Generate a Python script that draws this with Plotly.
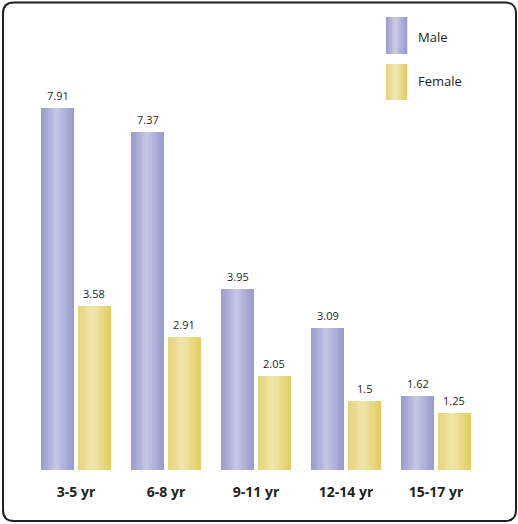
import plotly.graph_objects as go

categories = ["3-5 yr", "6-8 yr", "9-11 yr", "12-14 yr", "15-17 yr"]
male = [7.91, 7.37, 3.95, 3.09, 1.62]
female = [3.58, 2.91, 2.05, 1.5, 1.25]
series_names = ["Male", "Female"]

W, H = 518, 524
ML, MR, MT, MB = 31, 37, 35, 54
PW, PH = W - ML - MR, H - MT - MB

def px_x(px):
    return (px - ML) / PW

def px_y(py):
    return (H - MB - py) / PH

def lerp(c1, c2, t):
    return tuple(round(a + (b - a) * t) for a, b in zip(c1, c2))

def rgb(c):
    return "rgb(%d,%d,%d)" % c

male_edge_l, male_mid, male_edge_r = (150, 153, 203), (197, 199, 229), (150, 153, 203)
fem_edge_l, fem_mid, fem_edge_r = (229, 210, 118), (240, 230, 172), (226, 204, 94)

def grad(t, l, m, r, peak=0.45):
    if t < peak:
        return lerp(l, m, t / peak)
    return lerp(m, r, (t - peak) / (1 - peak))

N = 14
bar_w = 0.367
offsets = [-0.203, 0.203]
palettes = [(male_edge_l, male_mid, male_edge_r), (fem_edge_l, fem_mid, fem_edge_r)]

fig = go.Figure()
xs = list(range(len(categories)))
annotations = []
for s, vals in enumerate([male, female]):
    sw = bar_w / N
    for k in range(N):
        t = (k + 0.5) / N
        col = rgb(grad(t, *palettes[s]))
        off = offsets[s] - bar_w / 2 + (k + 0.5) * sw
        fig.add_trace(go.Bar(
            x=[i + off for i in xs], y=vals, width=sw * 1.08,
            marker=dict(color=col, line=dict(width=0)),
            showlegend=False, hoverinfo="skip", name=series_names[s]))
    for i, v in zip(xs, vals):
        annotations.append(dict(
            x=i + offsets[s], y=v, xref="x", yref="y", text=str(v),
            showarrow=False, xanchor="center", yanchor="bottom", yshift=3,
            font=dict(family="Open Sans", size=11, color="#231f20")))

shapes = []
# legend swatches
legend_boxes = [(386, 407, 17, 54), (386, 407, 64, 100)]
for s, (x0, x1, y0, y1) in enumerate(legend_boxes):
    n = 10
    for k in range(n):
        t = (k + 0.5) / n
        col = rgb(grad(t, *palettes[s]))
        a = x0 + (x1 - x0) * k / n
        b = x0 + (x1 - x0) * (k + 1) / n + 0.3
        shapes.append(dict(type="rect", xref="paper", yref="paper",
                           x0=px_x(a), x1=px_x(b), y0=px_y(y1), y1=px_y(y0),
                           fillcolor=col, line=dict(width=0), layer="above"))

annotations += [
    dict(x=px_x(416), y=px_y(37), xref="paper", yref="paper", text=series_names[0],
         showarrow=False, xanchor="left", yanchor="middle",
         font=dict(family="Open Sans", size=13, color="#231f20")),
    dict(x=px_x(416), y=px_y(81), xref="paper", yref="paper", text=series_names[1],
         showarrow=False, xanchor="left", yanchor="middle",
         font=dict(family="Open Sans", size=13, color="#231f20")),
]

# rounded frame
L, R, T, B, r = 3, 516, 2.5, 521, 11
def P(x, y):
    return "%.5f,%.5f" % (px_x(x), px_y(y))
path = ("M " + P(L + r, T) + " L " + P(R - r, T) + " Q " + P(R, T) + " " + P(R, T + r) +
        " L " + P(R, B - r) + " Q " + P(R, B) + " " + P(R - r, B) +
        " L " + P(L + r, B) + " Q " + P(L, B) + " " + P(L, B - r) +
        " L " + P(L, T + r) + " Q " + P(L, T) + " " + P(L + r, T) + " Z")
shapes.append(dict(type="path", xref="paper", yref="paper", path=path,
                   line=dict(color="#231f20", width=2)))

fig.update_layout(
    width=W, height=H,
    margin=dict(l=ML, r=MR, t=MT, b=MB),
    paper_bgcolor="white", plot_bgcolor="white",
    barmode="overlay", bargap=0,
    shapes=shapes, annotations=annotations,
    xaxis=dict(range=[-0.5, 4.5], tickvals=xs, ticktext=categories,
               showgrid=False, zeroline=False, showline=False, ticks="",
               ticklabelstandoff=12,
               tickfont=dict(family="Open Sans", size=14, color="#231f20", weight="bold")),
    yaxis=dict(range=[0, PH / 45.8], showgrid=False, zeroline=False,
               showline=False, showticklabels=False, ticks=""),
    font=dict(family="Open Sans"),
)

fig.write_html("out.html", config={"displayModeBar": False},
               post_script="document.body.style.margin='0';document.body.style.overflow='hidden';")
